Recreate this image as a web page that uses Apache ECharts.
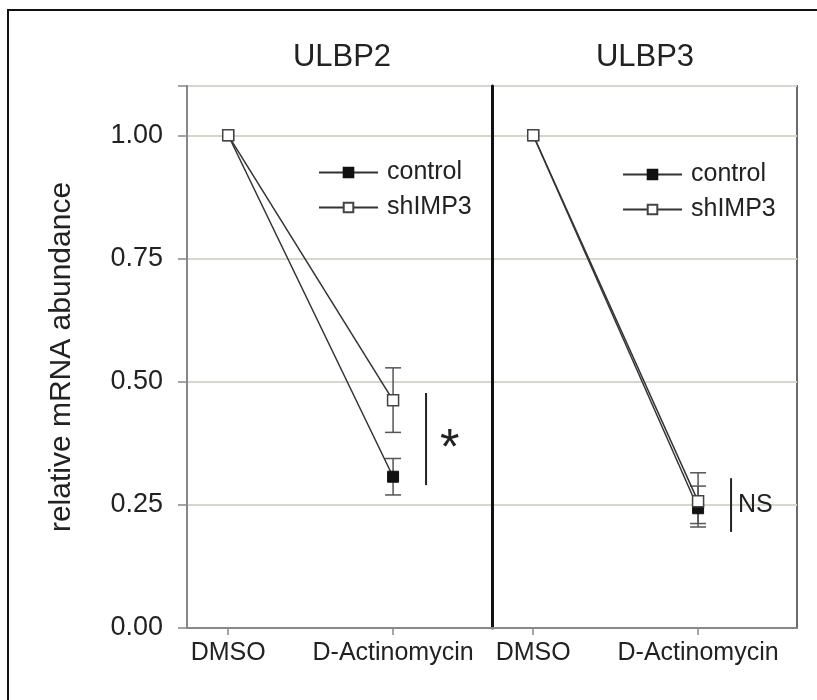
<!DOCTYPE html>
<html>
<head>
<meta charset="utf-8">
<script src="https://cdn.jsdelivr.net/npm/echarts@6/dist/echarts.min.js"></script>
<style>html,body{margin:0;padding:0;background:#fff;}#c{width:817px;height:700px;}</style>
</head>
<body>
<div id="c"></div>
<script>
// ---- data ----
var categories = ['DMSO', 'D-Actinomycin'];
var panelTitles = ['ULBP2', 'ULBP3'];
var seriesNames = ['control', 'shIMP3'];
var yTicks = [0, 0.25, 0.5, 0.75, 1.0];

var ulbp2Control = [1.00, 0.307];
var ulbp2ControlLow = [1.00, 0.270];
var ulbp2ControlHigh = [1.00, 0.344];
var ulbp2Sh = [1.00, 0.462];
var ulbp2ShLow = [1.00, 0.397];
var ulbp2ShHigh = [1.00, 0.528];

var ulbp3Control = [1.00, 0.243];
var ulbp3ControlLow = [1.00, 0.205];
var ulbp3ControlHigh = [1.00, 0.288];
var ulbp3Sh = [1.00, 0.257];
var ulbp3ShLow = [1.00, 0.212];
var ulbp3ShHigh = [1.00, 0.315];

// significance annotations: [x, low, high, label]
var sigUlbp2 = [1.2, 0.29, 0.477, '*'];
var sigUlbp3 = [1.2, 0.195, 0.304, 'NS'];

var yTitle = 'relative mRNA abundance';

// ---- helpers ----
var FONT = '"Liberation Sans", Arial, sans-serif';
var TXT = '#222';
function pts(vals) { return vals.map(function (v, i) { return [i, v]; }); }
function errs(lo, hi) {
  var out = [];
  for (var i = 0; i < lo.length; i++) { if (hi[i] !== lo[i]) out.push([i, lo[i], hi[i]]); }
  return out;
}
function errRender(params, api) {
  var x = api.value(0);
  var a = api.coord([x, api.value(1)]);
  var b = api.coord([x, api.value(2)]);
  var w = 8;
  var st = { stroke: '#555', lineWidth: 1.5 };
  return { type: 'group', children: [
    { type: 'line', shape: { x1: a[0], y1: a[1], x2: b[0], y2: b[1] }, style: st },
    { type: 'line', shape: { x1: a[0] - w, y1: a[1], x2: a[0] + w, y2: a[1] }, style: st },
    { type: 'line', shape: { x1: b[0] - w, y1: b[1], x2: b[0] + w, y2: b[1] }, style: st }
  ]};
}
function makeSigRender(label, isStar) {
  return function (params, api) {
    var x = api.value(0);
    var lo = api.coord([x, api.value(1)]);
    var hi = api.coord([x, api.value(2)]);
    var midY = (lo[1] + hi[1]) / 2;
    var fs = isStar ? 50 : 25;
    return { type: 'group', children: [
      { type: 'line', shape: { x1: lo[0], y1: lo[1], x2: hi[0], y2: hi[1] }, style: { stroke: '#222', lineWidth: 2 } },
      { type: 'text', x: lo[0] + (isStar ? 14 : 7), y: midY + (isStar ? 0.22 * fs : 0),
        style: { text: label, fontSize: fs, fontFamily: FONT, fill: TXT, align: 'left', verticalAlign: 'middle' } }
    ]};
  };
}

function lineSeries(name, data, gi, filled) {
  return {
    type: 'line', name: name, xAxisIndex: gi, yAxisIndex: gi, data: pts(data),
    symbol: 'rect', symbolSize: 11, z: filled ? 3 : 4,
    lineStyle: { color: '#333', width: 1.5 },
    itemStyle: filled ? { color: '#111', borderColor: '#111', borderWidth: 1 }
                      : { color: '#fff', borderColor: '#444', borderWidth: 1.5 },
    emphasis: { disabled: true }, animation: false
  };
}
function xAxisCfg(gi) {
  return {
    type: 'value', gridIndex: gi, min: -0.25, max: 1.6,
    axisLine: { show: true, onZero: false, lineStyle: { color: '#888', width: 2 } },
    axisTick: { show: true, customValues: [0, 1], length: 7, lineStyle: { color: '#888', width: 1.5 } },
    axisLabel: { show: true, customValues: [0, 1], margin: 13, fontSize: 25, fontFamily: FONT, color: TXT,
                 formatter: function (v) { return categories[Math.round(v)]; } },
    splitLine: { show: false }
  };
}
function yAxisCfg(gi) {
  var first = gi === 0;
  return {
    type: 'value', gridIndex: gi, min: 0, max: 1.1, interval: 0.25,
    name: first ? yTitle : '', nameLocation: 'middle', nameRotate: 90, nameGap: 110,
    nameTextStyle: { fontSize: 30, fontFamily: FONT, color: TXT },
    axisLine: { show: true, onZero: false, lineStyle: { color: first ? '#888' : '#111', width: first ? 2 : 3 } },
    axisTick: { show: first, length: 9, lineStyle: { color: '#888', width: 1.5 } },
    axisLabel: { show: first, margin: 24, fontSize: 27, fontFamily: FONT, color: TXT,
                 formatter: function (v) { return yTicks.indexOf(v) >= 0 ? v.toFixed(2) : ''; } },
    splitLine: { show: true, lineStyle: { color: '#d6d6cc', width: 2 } }
  };
}
function legendCfg(left, top) {
  return {
    left: left, top: top, orient: 'vertical', data: seriesNames,
    itemWidth: 59, itemHeight: 12, itemGap: 10, selectedMode: false,
    textStyle: { fontSize: 25, fontFamily: FONT, color: TXT, lineHeight: 25, padding: [0, 0, 0, 4] }
  };
}

var chart = echarts.init(document.getElementById('c'), null, { renderer: 'canvas' });
chart.setOption({
  animation: false,
  backgroundColor: '#fff',
  graphic: [
    { type: 'rect', shape: { x: 8, y: 10, width: 840, height: 720 }, style: { fill: 'none', stroke: '#111', lineWidth: 2 }, z: -1 },
    { type: 'text', x: 342, y: 57, style: { text: panelTitles[0], fontSize: 31, fontFamily: FONT, fill: TXT, align: 'center', verticalAlign: 'middle' } },
    { type: 'text', x: 645, y: 57, style: { text: panelTitles[1], fontSize: 31, fontFamily: FONT, fill: TXT, align: 'center', verticalAlign: 'middle' } }
  ],
  grid: [
    { left: 187, top: 86, width: 305, height: 542, show: true, borderColor: '#8a8a8a', borderWidth: 2, backgroundColor: '#fff' },
    { left: 492, top: 86, width: 305, height: 542, show: true, borderColor: '#6a6a6a', borderWidth: 2, backgroundColor: '#fff' }
  ],
  xAxis: [xAxisCfg(0), xAxisCfg(1)],
  yAxis: [yAxisCfg(0), yAxisCfg(1)],
  legend: [legendCfg(313, 155), legendCfg(617, 157)],
  series: [
    { type: 'custom', name: 'err', xAxisIndex: 0, yAxisIndex: 0, renderItem: errRender, data: errs(ulbp2ControlLow, ulbp2ControlHigh), z: 2, silent: true },
    { type: 'custom', name: 'err', xAxisIndex: 0, yAxisIndex: 0, renderItem: errRender, data: errs(ulbp2ShLow, ulbp2ShHigh), z: 2, silent: true },
    { type: 'custom', name: 'err', xAxisIndex: 1, yAxisIndex: 1, renderItem: errRender, data: errs(ulbp3ControlLow, ulbp3ControlHigh), z: 2, silent: true },
    { type: 'custom', name: 'err', xAxisIndex: 1, yAxisIndex: 1, renderItem: errRender, data: errs(ulbp3ShLow, ulbp3ShHigh), z: 2, silent: true },
    lineSeries(seriesNames[0], ulbp2Control, 0, true),
    lineSeries(seriesNames[1], ulbp2Sh, 0, false),
    lineSeries(seriesNames[0], ulbp3Control, 1, true),
    lineSeries(seriesNames[1], ulbp3Sh, 1, false),
    { type: 'custom', name: 'sig2', xAxisIndex: 0, yAxisIndex: 0, renderItem: makeSigRender(sigUlbp2[3], true), data: [sigUlbp2.slice(0, 3)], silent: true },
    { type: 'custom', name: 'sig3', xAxisIndex: 1, yAxisIndex: 1, renderItem: makeSigRender(sigUlbp3[3], false), data: [sigUlbp3.slice(0, 3)], silent: true }
  ]
});
</script>
</body>
</html>
